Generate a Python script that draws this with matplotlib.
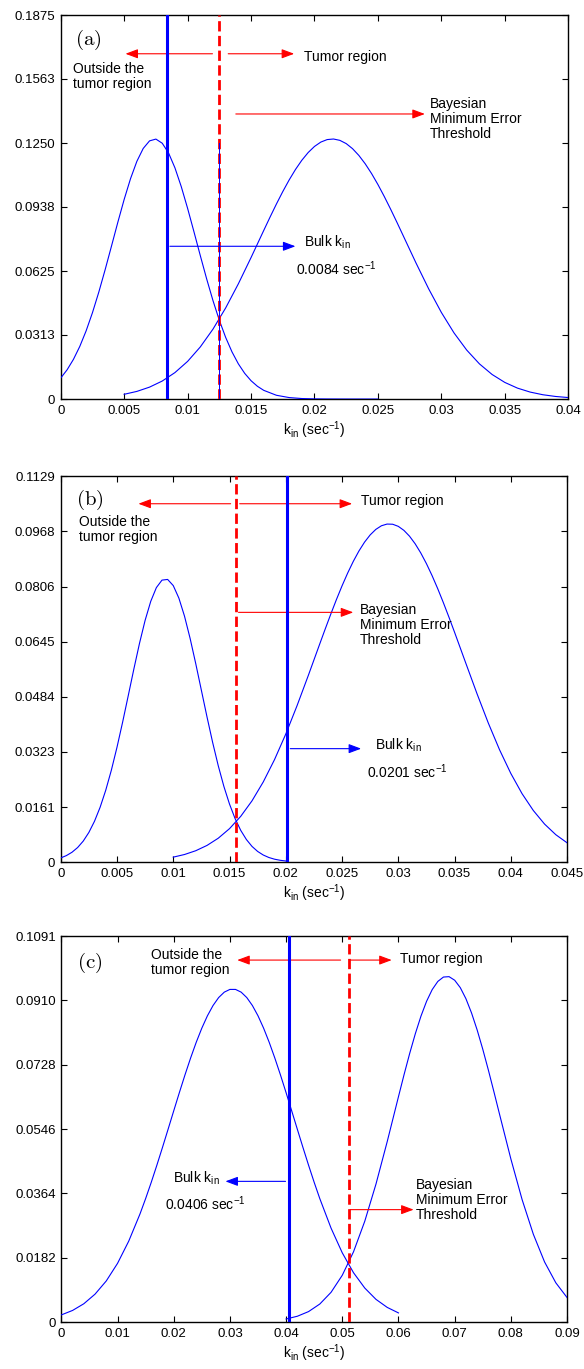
import matplotlib
matplotlib.use('Agg')
import matplotlib.pyplot as plt

plt.rcParams['font.family'] = ['Liberation Sans', 'DejaVu Sans']
plt.rcParams['mathtext.fontset'] = 'custom'
plt.rcParams['mathtext.rm'] = 'Liberation Sans'
plt.rcParams['mathtext.it'] = 'Liberation Sans'
plt.rcParams['font.size'] = 10

# ---- panel (a) ----
a_x_out = [0.0, 0.0005, 0.001, 0.0015, 0.002, 0.0025, 0.003, 0.0035, 0.004, 0.0045,
           0.005, 0.0055, 0.006, 0.0065, 0.007, 0.0075, 0.008, 0.0085, 0.009, 0.0095,
           0.01, 0.0105, 0.011, 0.0115, 0.012, 0.0125, 0.013, 0.0135, 0.014, 0.0145,
           0.015, 0.0155, 0.016, 0.017, 0.018, 0.019, 0.02, 0.021, 0.022, 0.023,
           0.024, 0.025]
a_y_out = [0.01028, 0.01427, 0.01937, 0.02568, 0.03329, 0.04217, 0.05221, 0.06317, 0.07469, 0.08632,
           0.09749, 0.10760, 0.11607, 0.12236, 0.12607, 0.12694, 0.12492, 0.12014, 0.11292, 0.10372,
           0.09311, 0.08169, 0.07005, 0.05870, 0.04807, 0.03847, 0.03009, 0.02301, 0.01719, 0.01255,
           0.00896, 0.00625, 0.00426, 0.00185, 0.00073, 0.00026, 0.00009, 0.00003, 0.00001, 0.0,
           0.0, 0.0]
a_x_tum = [0.005, 0.006, 0.007, 0.008, 0.009, 0.010, 0.011, 0.012, 0.013, 0.014,
           0.015, 0.016, 0.0165, 0.017, 0.0175, 0.018, 0.0185, 0.019, 0.0195, 0.020,
           0.0205, 0.021, 0.0215, 0.022, 0.0225, 0.023, 0.0235, 0.024, 0.0245, 0.025,
           0.0255, 0.026, 0.0265, 0.027, 0.028, 0.029, 0.030, 0.031, 0.032, 0.033,
           0.034, 0.035, 0.036, 0.037, 0.038, 0.039, 0.040]
a_y_tum = [0.00233, 0.00374, 0.00583, 0.00880, 0.01292, 0.01840, 0.02545, 0.03415, 0.04450, 0.05628,
           0.06909, 0.08233, 0.08888, 0.09524, 0.10130, 0.10695, 0.11208, 0.11658, 0.12036, 0.12335,
           0.12548, 0.12670, 0.12698, 0.12632, 0.12474, 0.12226, 0.11894, 0.11486, 0.11010, 0.10475,
           0.09892, 0.09273, 0.08628, 0.07968, 0.06647, 0.05382, 0.04230, 0.03228, 0.02391, 0.01719,
           0.01200, 0.00813, 0.00534, 0.00341, 0.00211, 0.00127, 0.00074]
a_bulk = 0.0084
a_thr = 0.0125
a_xticks = ['0', '0.005', '0.01', '0.015', '0.02', '0.025', '0.03', '0.035', '0.04']
a_yticks = ['0', '0.0313', '0.0625', '0.0938', '0.1250', '0.1563', '0.1875']

# ---- panel (b) ----
b_x_out = [0.0, 0.0005, 0.001, 0.0015, 0.002, 0.0025, 0.003, 0.0035, 0.004, 0.0045,
           0.005, 0.0055, 0.006, 0.0065, 0.007, 0.0075, 0.008, 0.0085, 0.009, 0.0095,
           0.01, 0.0105, 0.011, 0.0115, 0.012, 0.0125, 0.013, 0.0135, 0.014, 0.0145,
           0.015, 0.0155, 0.016, 0.0165, 0.017, 0.0175, 0.018, 0.0185, 0.019, 0.0195,
           0.02]
b_y_out = [0.00121, 0.00189, 0.00287, 0.00425, 0.00614, 0.00867, 0.01194, 0.01604, 0.02103, 0.02691,
           0.03361, 0.04096, 0.04871, 0.05653, 0.06403, 0.07077, 0.07633, 0.08035, 0.08254, 0.08274,
           0.08094, 0.07727, 0.07199, 0.06545, 0.05807, 0.05028, 0.04249, 0.03503, 0.02819, 0.02214,
           0.01697, 0.01269, 0.00926, 0.00660, 0.00458, 0.00311, 0.00206, 0.00133, 0.00084, 0.00052,
           0.00031]
b_x_tum = [0.010, 0.011, 0.012, 0.013, 0.014, 0.015, 0.016, 0.017, 0.018, 0.019,
           0.020, 0.021, 0.022, 0.023, 0.0235, 0.024, 0.0245, 0.025, 0.0255, 0.026,
           0.0265, 0.027, 0.0275, 0.028, 0.0285, 0.029, 0.0295, 0.030, 0.0305, 0.031,
           0.0315, 0.032, 0.0325, 0.033, 0.0335, 0.034, 0.0345, 0.035, 0.036, 0.037,
           0.038, 0.039, 0.040, 0.041, 0.042, 0.043, 0.044, 0.045]
b_y_tum = [0.00144, 0.00221, 0.00332, 0.00487, 0.00698, 0.00978, 0.01340, 0.01793, 0.02346, 0.02999,
           0.03747, 0.04576, 0.05460, 0.06368, 0.06818, 0.07258, 0.07683, 0.08085, 0.08460, 0.08802,
           0.09105, 0.09365, 0.09577, 0.09738, 0.09845, 0.09895, 0.09890, 0.09828, 0.09710, 0.09539,
           0.09317, 0.09048, 0.08737, 0.08388, 0.08007, 0.07599, 0.07171, 0.06729, 0.05823, 0.04925,
           0.04070, 0.03287, 0.02595, 0.02002, 0.01510, 0.01112, 0.00801, 0.00564]
b_bulk = 0.0201
b_thr = 0.0156
b_xticks = ['0', '0.005', '0.01', '0.015', '0.02', '0.025', '0.03', '0.035', '0.04', '0.045']
b_yticks = ['0', '0.0161', '0.0323', '0.0484', '0.0645', '0.0806', '0.0968', '0.1129']

# ---- panel (c) ----
c_x_out = [0.0, 0.002, 0.004, 0.006, 0.008, 0.010, 0.012, 0.014, 0.015, 0.016,
           0.017, 0.018, 0.019, 0.020, 0.021, 0.022, 0.023, 0.024, 0.025, 0.026,
           0.027, 0.028, 0.029, 0.030, 0.031, 0.032, 0.033, 0.034, 0.035, 0.036,
           0.037, 0.038, 0.039, 0.040, 0.041, 0.042, 0.043, 0.044, 0.045, 0.046,
           0.048, 0.050, 0.052, 0.054, 0.056, 0.058, 0.060]
c_y_out = [0.00202, 0.00328, 0.00517, 0.00789, 0.01163, 0.01659, 0.02290, 0.03058, 0.03491, 0.03951,
           0.04436, 0.04939, 0.05454, 0.05973, 0.06488, 0.06989, 0.07466, 0.07911, 0.08313, 0.08664,
           0.08955, 0.09180, 0.09333, 0.09410, 0.09410, 0.09333, 0.09180, 0.08955, 0.08664, 0.08313,
           0.07911, 0.07466, 0.06989, 0.06488, 0.05973, 0.05454, 0.04939, 0.04436, 0.03951, 0.03491,
           0.02657, 0.01957, 0.01395, 0.00962, 0.00641, 0.00414, 0.00258]
c_x_tum = [0.040, 0.042, 0.044, 0.046, 0.048, 0.050, 0.052, 0.054, 0.056, 0.058,
           0.060, 0.061, 0.062, 0.063, 0.064, 0.065, 0.066, 0.067, 0.068, 0.069,
           0.070, 0.071, 0.072, 0.073, 0.074, 0.075, 0.076, 0.077, 0.078, 0.080,
           0.082, 0.084, 0.086, 0.088, 0.090]
c_y_tum = [0.00086, 0.00164, 0.00296, 0.00510, 0.00841, 0.01324, 0.01988, 0.02852, 0.03906, 0.05108,
           0.06377, 0.07004, 0.07603, 0.08158, 0.08654, 0.09074, 0.09405, 0.09636, 0.09760, 0.09771,
           0.09670, 0.09460, 0.09148, 0.08744, 0.08263, 0.07718, 0.07126, 0.06504, 0.05868, 0.04614,
           0.03464, 0.02483, 0.01699, 0.01110, 0.00693]
c_bulk = 0.0406
c_thr = 0.0512
c_xticks = ['0', '0.01', '0.02', '0.03', '0.04', '0.05', '0.06', '0.07', '0.08', '0.09']
c_yticks = ['0', '0.0182', '0.0364', '0.0546', '0.0728', '0.0910', '0.1091']

BLUE = '#0000ff'
RED = '#ff0000'
XLABEL = r'k$_{\mathrm{in}}$ (sec$^{-1}$)'


def arrow(ax, tail, head, color):
    ax.annotate('', xy=head, xytext=tail,
                arrowprops=dict(arrowstyle='-|>,head_length=0.75,head_width=0.28',
                                color=color, lw=0.8, shrinkA=0, shrinkB=0),
                zorder=6)


def setup(ax, xticks, yticks):
    xmax = float(xticks[-1])
    ymax = float(yticks[-1])
    ax.set_xlim(0, xmax)
    ax.set_ylim(0, ymax)
    ax.set_xticks([float(t) for t in xticks])
    ax.set_xticklabels(xticks)
    ax.set_yticks([float(t) for t in yticks])
    ax.set_yticklabels(yticks)
    ax.tick_params(direction='in', top=True, right=True, length=4, width=0.8,
                   labelsize=9.5, pad=4)
    for s in ax.spines.values():
        s.set_linewidth(1.0)
    ax.set_xlabel(XLABEL, fontsize=10, labelpad=2)


def curve(ax, xs, ys):
    ax.plot(xs, ys, color=BLUE, lw=0.8, zorder=3, solid_joinstyle='round')


fig = plt.figure(figsize=(5.84, 13.69), dpi=100)
ax_a = fig.add_axes([0.104, 0.7085, 0.869, 0.2805])
ax_b = fig.add_axes([0.104, 0.3703, 0.867, 0.2817])
ax_c = fig.add_axes([0.105, 0.0343, 0.866, 0.2817])

# (a)
ax = ax_a
setup(ax, a_xticks, a_yticks)
curve(ax, a_x_out, a_y_out)
curve(ax, a_x_tum, a_y_tum)
ax.axvline(a_thr, color=RED, ls='--', lw=2.0, zorder=4)
ax.plot([a_thr, a_thr], [0, 0.125], color=BLUE, lw=0.7, zorder=5)
ax.axvline(a_bulk, color=BLUE, lw=2.2, zorder=7)
ax.text(0.0011, 0.1753, r'$\mathrm{(a)}$', fontsize=15, va='center',
        math_fontfamily='cm')
arrow(ax, (0.01196, 0.1686), (0.0051, 0.1686), RED)
arrow(ax, (0.0132, 0.1686), (0.0184, 0.1686), RED)
ax.text(0.0192, 0.1668, 'Tumor region', va='center')
ax.text(0.001, 0.1576, 'Outside the\ntumor region', va='center', linespacing=1.1)
arrow(ax, (0.0138, 0.1392), (0.0287, 0.1392), RED)
ax.text(0.0291, 0.1367, 'Bayesian\nMinimum Error\nThreshold', va='center', linespacing=1.1)
arrow(ax, (0.0086, 0.0746), (0.0185, 0.0746), BLUE)
ax.text(0.0192, 0.0765, r'Bulk k$_{\mathrm{in}}$', va='center')
ax.text(0.01855, 0.0638, r'0.0084 sec$^{-1}$', va='center')

# (b)
ax = ax_b
setup(ax, b_xticks, b_yticks)
curve(ax, b_x_out, b_y_out)
curve(ax, b_x_tum, b_y_tum)
ax.axvline(b_thr, color=RED, ls='--', lw=2.0, zorder=4)
ax.axvline(b_bulk, color=BLUE, lw=2.2, zorder=7)
ax.text(0.0014, 0.1059, r'$\mathrm{(b)}$', fontsize=15, va='center',
        math_fontfamily='cm')
arrow(ax, (0.0151, 0.1049), (0.0069, 0.1049), RED)
arrow(ax, (0.0159, 0.1049), (0.0259, 0.1049), RED)
ax.text(0.0267, 0.1056, 'Tumor region', va='center')
ax.text(0.0016, 0.0974, 'Outside the\ntumor region', va='center', linespacing=1.1)
arrow(ax, (0.0158, 0.0731), (0.0260, 0.0731), RED)
ax.text(0.0266, 0.0694, 'Bayesian\nMinimum Error\nThreshold', va='center', linespacing=1.1)
arrow(ax, (0.0204, 0.0332), (0.0267, 0.0332), BLUE)
ax.text(0.0279, 0.0341, r'Bulk k$_{\mathrm{in}}$', va='center')
ax.text(0.0272, 0.0265, r'0.0201 sec$^{-1}$', va='center')

# (c)
ax = ax_c
setup(ax, c_xticks, c_yticks)
curve(ax, c_x_out, c_y_out)
curve(ax, c_x_tum, c_y_tum)
ax.axvline(c_thr, color=RED, ls='--', lw=2.0, zorder=4)
ax.axvline(c_bulk, color=BLUE, lw=2.2, zorder=7)
ax.text(0.0028, 0.1017, r'$\mathrm{(c)}$', fontsize=15, va='center',
        math_fontfamily='cm')
arrow(ax, (0.0497, 0.1024), (0.0313, 0.1024), RED)
arrow(ax, (0.0514, 0.1024), (0.0588, 0.1024), RED)
ax.text(0.0602, 0.1027, 'Tumor region', va='center')
ax.text(0.0159, 0.1016, 'Outside the\ntumor region', va='center', linespacing=1.1)
arrow(ax, (0.0399, 0.0398), (0.0292, 0.0398), BLUE)
ax.text(0.0199, 0.0406, r'Bulk k$_{\mathrm{in}}$', va='center')
ax.text(0.0184, 0.0334, r'0.0406 sec$^{-1}$', va='center')
arrow(ax, (0.0514, 0.0318), (0.0627, 0.0318), RED)
ax.text(0.0631, 0.0346, 'Bayesian\nMinimum Error\nThreshold', va='center', linespacing=1.1)

fig.savefig('out.png', dpi=100)
